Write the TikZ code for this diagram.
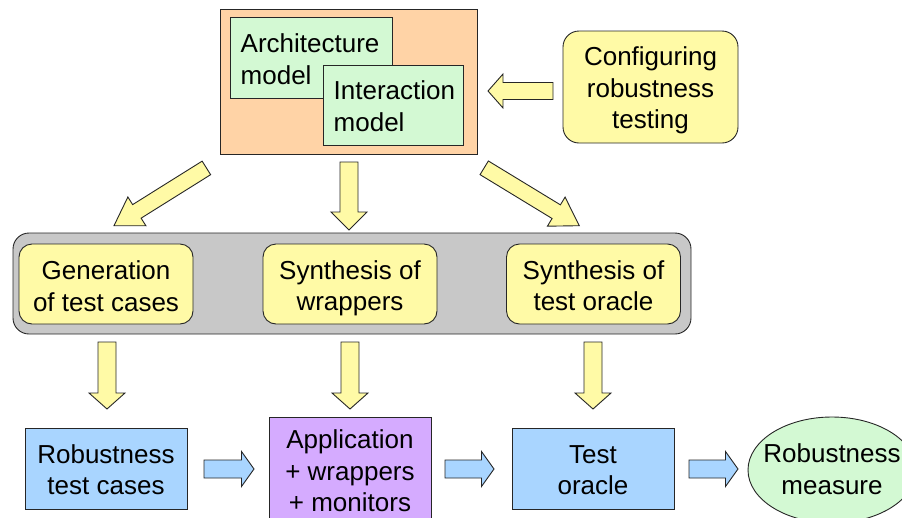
\documentclass[tikz,border=0pt]{standalone}
\usepackage{fontspec}
\setmainfont{Liberation Sans}
\usetikzlibrary{calc,shapes.geometric}

\definecolor{peach}{HTML}{FFD3A6}
\definecolor{mint}{HTML}{D3F9D3}
\definecolor{paleyellow}{HTML}{FFFAA6}
\definecolor{panelgray}{HTML}{C8C8C8}
\definecolor{skyblue}{HTML}{A9D5FF}
\definecolor{lilac}{HTML}{D5ABFF}
\definecolor{edge}{HTML}{262626}

% block arrow: from, to, shaft half-width, head half-width, head length, fill
\newcommand{\blockarrow}[6]{%
  \coordinate (ba-h) at ($(#2)!#5!(#1)$);
  \draw[arrowline, fill=#6]
    ($(#1)!#3!90:(#2)$) -- ($(ba-h)!#3!90:(#2)$) -- ($(ba-h)!#4!90:(#2)$)
    -- (#2)
    -- ($(ba-h)!#4!-90:(#2)$) -- ($(ba-h)!#3!-90:(#2)$) -- ($(#1)!#3!-90:(#2)$)
    -- cycle;
}

\begin{document}
\begin{tikzpicture}[x=1pt,y=-1pt,
  every node/.style={font=\fontsize{26pt}{31.5pt}\selectfont, text=black, inner sep=0pt},
  txt/.style={align=center},
  base/.style={draw=edge, line width=0.9pt},
  plainbox/.style={base, rectangle},
  roundbox/.style={base, rectangle, rounded corners=13pt, fill=paleyellow,
    minimum width=174pt, minimum height=80pt},
  modelbox/.style={plainbox, fill=mint},
  resultbox/.style={plainbox, fill=skyblue, minimum width=162pt, minimum height=81pt},
  arrowline/.style={draw=edge, line width=0.9pt, line join=miter},
]
\useasboundingbox (0,0) rectangle (902,517);
\clip (0,0) rectangle (902,517);

% models
\node[plainbox, fill=peach, minimum width=257pt, minimum height=145pt] (models) at (348.5,81.5) {};
\node[modelbox, minimum width=162pt, minimum height=81pt] (arch) at (311,57.5) {};
\node[txt, align=left, anchor=west] (arch-t) at (240.5,59) {Architecture\\model};
\node[modelbox, minimum width=140pt, minimum height=80pt] (inter) at (393,105) {};
\node[txt, align=left, anchor=west] (inter-t) at (333.5,106) {Interaction\\model};

% configuration
\node[roundbox, rounded corners=16pt, minimum width=175pt, minimum height=112pt] (config) at (650.5,87) {};
\node[txt] (config-t) at (650.5,90.5) {Configuring\\robustness\\testing};

% generation phase
\node[base, fill=panelgray, rounded corners=16pt, minimum width=678pt, minimum height=101pt] (phase) at (352,283.5) {};
\node[roundbox] (gen) at (106,284) {};
\node[txt] (gen-t) at (106,286) {Generation\\of test cases};
\node[roundbox] (wrap) at (350,284) {};
\node[txt] (wrap-t) at (350,288.5) {Synthesis of\\wrappers};
\node[roundbox] (orac) at (593.5,284) {};
\node[txt] (orac-t) at (593.5,285.5) {Synthesis of\\test oracle};

% results
\node[resultbox] (cases) at (106,468.5) {};
\node[txt] (cases-t) at (106,469.5) {Robustness\\test cases};
\node[plainbox, fill=lilac, minimum width=162pt, minimum height=108pt] (app) at (350,471) {};
\node[txt] (app-t) at (350,471) {Application\\+ wrappers\\+ monitors};
\node[resultbox] (toracle) at (593,468.5) {};
\node[txt] (toracle-t) at (593,470) {Test\\oracle};
\node[base, ellipse, fill=mint, minimum width=168pt, minimum height=106pt] (measure) at (832,470) {};
\node[txt] (measure-t) at (832,469) {Robustness\\measure};

% arrow end points
\coordinate (cfgS) at (553,91);   \coordinate (cfgE) at (488,91);
\coordinate (ldS) at (206.4,167.9); \coordinate (ldE) at (114,225.7);
\coordinate (mdS) at (349,162);   \coordinate (mdE) at (349,230);
\coordinate (rdS) at (484.2,167.8); \coordinate (rdE) at (579.3,225.7);
\coordinate (g1S) at (107,342);   \coordinate (g1E) at (107,409);
\coordinate (g2S) at (350,342);   \coordinate (g2E) at (350,409);
\coordinate (g3S) at (593,342);   \coordinate (g3E) at (593,409);
\coordinate (h1S) at (204,469);   \coordinate (h1E) at (254,469);
\coordinate (h2S) at (445,469);   \coordinate (h2E) at (494,469);
\coordinate (h3S) at (689,469);   \coordinate (h3E) at (738,469);

% yellow flow arrows
\blockarrow{cfgS}{cfgE}{8.5pt}{17pt}{15pt}{paleyellow}
\blockarrow{ldS}{ldE}{8pt}{17pt}{27pt}{paleyellow}
\blockarrow{mdS}{mdE}{9pt}{18pt}{18pt}{paleyellow}
\blockarrow{rdS}{rdE}{8pt}{17pt}{27pt}{paleyellow}
\blockarrow{g1S}{g1E}{9pt}{18pt}{16pt}{paleyellow}
\blockarrow{g2S}{g2E}{9pt}{18pt}{16pt}{paleyellow}
\blockarrow{g3S}{g3E}{9pt}{18pt}{16pt}{paleyellow}

% blue flow arrows
\blockarrow{h1S}{h1E}{9pt}{17.5pt}{12.5pt}{skyblue}
\blockarrow{h2S}{h2E}{9pt}{17.5pt}{12.5pt}{skyblue}
\blockarrow{h3S}{h3E}{9pt}{17.5pt}{12.5pt}{skyblue}
\end{tikzpicture}
\end{document}
